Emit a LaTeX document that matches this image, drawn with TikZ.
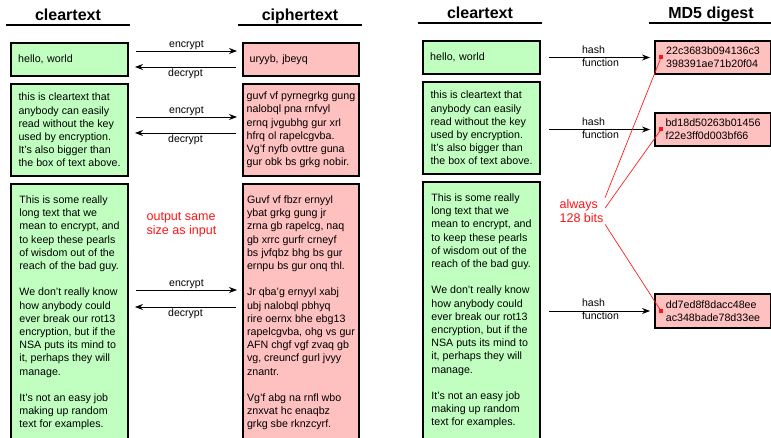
\documentclass[tikz,border=0pt]{standalone}
\usepackage{fontspec}
\setmainfont{Liberation Sans}
\usetikzlibrary{arrows.meta,calc}

\definecolor{cleargreen}{RGB}{192,255,192}
\definecolor{cipherpink}{RGB}{255,192,192}
\definecolor{notered}{RGB}{255,20,20}

\begin{document}
\begin{tikzpicture}[
  x=0.75pt,
  y=-0.75pt,
  column head/.style={
    font=\fontsize{12}{14}\selectfont\bfseries,
    anchor=base,
    minimum width=93pt,
    text depth=3.4pt,
    inner sep=0pt
  },
  head rule/.style={
    line width=1.5pt
  },
  text box/.style={
    draw,
    line width=1.5pt,
    anchor=north west,
    inner xsep=0pt,
    inner ysep=2pt,
    align=left,
    font=\fontsize{8}{9.9}\selectfont
  },
  clear box/.style={
    text box,
    fill=cleargreen,
    minimum width=87.75pt
  },
  cipher box/.style={
    text box,
    fill=cipherpink,
    minimum width=87pt
  },
  digest box/.style={
    text box,
    fill=cipherpink,
    minimum width=87pt,
    font=\fontsize{8}{9.75}\selectfont
  },
  one line/.style={
    text width=77pt
  },
  flow/.style={
    draw,
    line width=0.6pt,
    -{Stealth[length=6pt,width=4.5pt]}
  },
  flow label/.style={
    font=\fontsize{7.9}{9.75}\selectfont,
    inner sep=1pt
  },
  note/.style={
    notered,
    font=\fontsize{9.4}{10.8}\selectfont,
    align=left,
    inner sep=1pt
  },
  note line/.style={
    notered,
    line width=0.5pt
  },
  note dot/.style={
    fill=notered,
    minimum size=3pt,
    inner sep=0pt
  },
]
\useasboundingbox (0,0) rectangle (771,438);
\clip (0,0) rectangle (771,438);

% encryption: cleartext <-> ciphertext
\node[column head] (clearhead) at (68,20.5) {cleartext};
\node[column head] (cipherhead) at (300,20.5) {ciphertext};
\draw[head rule] (clearhead.south west) -- (clearhead.south east);
\draw[head rule] (cipherhead.south west) -- (cipherhead.south east);

\node[clear box, one line, minimum height=24.75pt] (clear1) at (10,42) {hello, world};
\node[clear box, minimum height=69pt] (clear2) at (10,83) {this is cleartext that\\
  anybody can easily\\read without the key\\used by encryption.\\
  It's also bigger than\\the box of text above.};
\node[clear box, minimum height=193.5pt] (clear3) at (10,183) {This is some really\\
  long text that we\\mean to encrypt, and\\to keep these pearls\\
  of wisdom out of the\\reach of the bad guy.\\[9.9pt]
  We don't really know\\how anybody could\\ever break our rot13\\
  encryption, but if the\\NSA puts its mind to\\it, perhaps they will\\
  manage.\\[9.9pt]
  It's not an easy job\\making up random\\text for examples.};

\node[cipher box, one line, minimum height=24.75pt] (cipher1) at (242,42) {uryyb, jbeyq};
\node[cipher box, minimum height=69pt] (cipher2) at (242,83) {guvf vf pyrnegrkg gung\\
  nalobql pna rnfvyl\\ernq jvgubhg gur xrl\\hfrq ol rapelcgvba.\\
  Vg'f nyfb ovttre guna\\gur obk bs grkg nobir.};
\node[cipher box, minimum height=193.5pt] (cipher3) at (242,183) {Guvf vf fbzr ernyyl\\
  ybat grkg gung jr\\zrna gb rapelcg, naq\\gb xrrc gurfr crneyf\\
  bs jvfqbz bhg bs gur\\ernpu bs gur onq thl.\\[9.9pt]
  Jr qba'g ernyyl xabj\\ubj nalobql pbhyq\\rire oernx bhe ebg13\\
  rapelcgvba, ohg vs gur\\AFN chgf vgf zvaq gb\\vg, creuncf gurl jvyy\\
  znantr.\\[9.9pt]
  Vg'f abg na rnfl wbo\\znxvat hc enaqbz\\grkg sbe rknzcyrf.};

\foreach \n/\a/\b in {1/9/25, 2/34/50, 3/107/124} {
  \draw[flow] ($(clear\n.north east)+(7,\a)$)
    -- node[flow label, above] {encrypt} ($(cipher\n.north west)+(-5,\a)$);
  \draw[flow] ($(cipher\n.north west)+(-6,\b)$)
    -- node[flow label, below] {decrypt} ($(clear\n.north east)+(6,\b)$);
}

\node[note, anchor=west] (samesize) at (145,225) {output same\\size as input};

% hashing: cleartext -> MD5 digest
\node[column head] (plainhead) at (480,18.3) {cleartext};
\node[column head] (digesthead) at (711,18.3) {MD5 digest};
\draw[head rule] (plainhead.south west) -- (plainhead.south east);
\draw[head rule] (digesthead.south west) -- (digesthead.south east);

\node[clear box, one line, minimum height=24.75pt] (plain1) at (422,40) {hello, world};
\node[clear box, minimum height=69pt] (plain2) at (422,81) {this is cleartext that\\
  anybody can easily\\read without the key\\used by encryption.\\
  It's also bigger than\\the box of text above.};
\node[clear box, minimum height=193.5pt] (plain3) at (422,181) {This is some really\\
  long text that we\\mean to encrypt, and\\to keep these pearls\\
  of wisdom out of the\\reach of the bad guy.\\[9.9pt]
  We don't really know\\how anybody could\\ever break our rot13\\
  encryption, but if the\\NSA puts its mind to\\it, perhaps they will\\
  manage.\\[9.9pt]
  It's not an easy job\\making up random\\text for examples.};

\node[digest box, minimum height=24.75pt] (digest1) at (654,40) {22c3683b094136c3\\398391ae71b20f04};
\node[digest box, minimum height=24.75pt] (digest2) at (654,112) {bd18d50263b01456\\f22e3ff0d003bf66};
\node[digest box, minimum height=25.5pt] (digest3) at (654,293) {dd7ed8f8dacc48ee\\ac348bade78d33ee};

\foreach \n in {1,2,3} {
  \draw[flow] ($(plain\n.east |- digest\n.west)+(8,0)$)
    -- node[flow label, pos=0.31, anchor=west, align=left, yshift=1.1pt] {hash\\function}
    ($(digest\n.west)+(-4,0)$);
  \node[note dot] (dot\n) at ($(digest\n.west)+(7,0)$) {};
}

\node[note, anchor=west] (always) at (558,211) {always\\128 bits};
\draw[note line] (always.north east) -- (dot1.center);
\draw[note line] ($(always.east)+(0,-3)$) -- (dot2.center);
\draw[note line] (always.south east) -- (dot3.center);
\end{tikzpicture}
\end{document}
